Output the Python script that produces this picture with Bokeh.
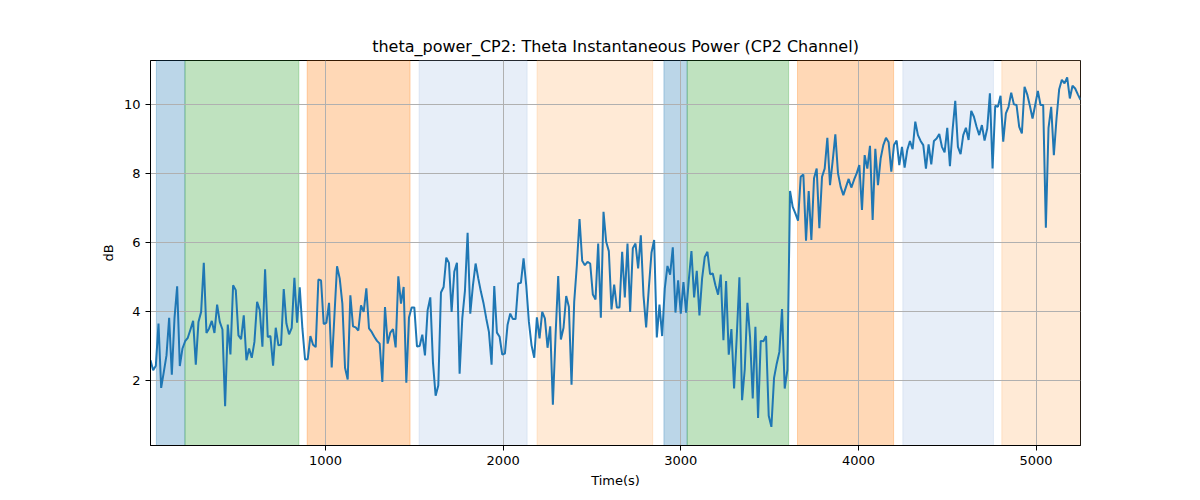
import numpy as np
from bokeh.plotting import figure
from bokeh.models import BoxAnnotation, FixedTicker, ColumnDataSource
from bokeh.embed import file_html
from bokeh.resources import INLINE

FONT = "DejaVu Sans"

# sampled theta power (dB), one value every 15 s
time_start = 15
time_step = 15
power_db = [
    2.59, 2.30, 2.43, 3.65, 1.79, 2.25, 2.73, 3.82, 2.17, 3.80,
    4.73, 2.42, 2.93, 3.14, 3.24, 3.48, 3.73, 2.46, 3.70, 3.99,
    5.41, 3.38, 3.51, 3.73, 3.38, 4.20, 3.70, 3.48, 1.26, 3.62,
    2.76, 4.76, 4.62, 3.31, 3.20, 3.89, 2.59, 2.93, 2.66, 3.12,
    4.28, 4.04, 2.98, 5.22, 3.26, 3.29, 2.43, 3.53, 3.02, 3.04,
    4.65, 3.65, 3.34, 3.53, 4.98, 3.68, 4.70, 3.51, 2.61, 2.62,
    3.29,
    3.04, 2.97, 4.93, 4.90, 3.64, 3.67, 4.25, 2.38, 3.85, 5.31,
    4.96, 4.23, 2.37, 2.03, 4.47, 3.57, 3.54, 3.45, 4.18, 3.99,
    4.67, 3.51, 3.41, 3.27, 3.15, 3.07, 1.96, 4.13, 3.07, 3.39,
    3.49, 2.96, 5.02, 4.23, 4.71, 1.94, 3.83, 4.12, 4.12, 2.99,
    3.00, 3.33, 2.73, 4.04, 4.41, 2.52, 1.56, 1.86, 4.55, 4.71,
    5.56, 5.41, 3.99, 5.15, 5.41, 2.20, 3.80,
    4.60, 6.28, 3.94, 4.76, 5.39, 4.96, 4.57, 4.23, 3.80, 3.41,
    2.46, 4.74, 3.39, 3.27, 2.75, 2.78, 3.62, 3.94, 3.78, 3.78,
    4.81, 4.83, 5.54, 4.76, 3.70, 3.02, 2.66, 3.83, 3.22, 3.99,
    3.80, 2.95, 3.57, 1.30, 3.30, 5.03, 3.19, 3.53, 4.45, 4.14,
    1.88, 4.28, 5.34, 6.68, 5.47, 5.34, 5.44, 5.39, 4.49, 4.35,
    5.97, 3.82, 6.89, 6.02, 5.75, 4.06, 4.78, 4.12, 4.12,
    5.73, 4.41, 5.97, 3.99, 5.83, 5.97, 5.25, 6.21, 4.47, 3.54,
    4.67, 5.70, 6.07, 3.25, 4.20, 3.29, 4.67, 5.32, 5.07, 5.86,
    3.97, 4.90, 3.94, 4.85, 3.97, 4.90, 5.75, 4.41, 5.18, 3.89,
    4.96, 5.58, 5.73, 5.08, 5.10, 4.76, 4.49, 5.07, 3.17, 4.88,
    2.75, 3.49, 1.77, 3.27, 4.99, 1.43, 2.32, 4.25, 3.25, 1.48,
    3.56, 0.92, 3.15, 3.14, 3.29, 0.98, 0.66, 2.08,
    2.49, 2.83, 4.07, 1.77, 2.30, 7.49, 7.03, 6.84, 6.63, 7.90,
    7.97, 6.05, 7.49, 6.07, 7.86, 8.14, 6.41, 7.90, 8.14, 9.03,
    7.66, 8.36, 9.13, 8.00, 7.61, 7.37, 7.61, 7.84, 7.59, 7.81,
    8.00, 8.24, 6.94, 8.53, 8.14, 8.80, 6.65, 8.71, 7.66, 8.43,
    8.82, 9.03, 8.90, 8.05, 8.82, 8.95, 8.24, 8.77, 8.17, 8.68,
    8.94, 8.70, 9.50, 9.11, 8.94, 8.82, 8.14, 8.84,
    8.26, 8.94, 9.01, 9.14, 8.77, 8.61, 9.32, 8.21, 9.26, 10.10,
    8.77, 8.56, 9.11, 9.32, 8.97, 9.81, 9.64, 9.35, 9.11, 9.40,
    8.95, 9.30, 10.32, 8.14, 9.96, 9.93, 10.25, 8.92, 9.74, 9.93,
    10.34, 10.00, 9.98, 9.35, 9.16, 10.51, 10.29, 9.96, 9.59, 9.98,
    10.39, 9.98, 9.98, 6.43, 9.32, 9.93, 8.53, 9.59, 10.44, 10.71,
    10.61, 10.78, 10.17, 10.54, 10.46, 10.29, 10.13,
]
times = time_start + time_step * np.arange(len(power_db))

# shaded segments (start s, end s, colour)
seg_start = [48, 209, 897, 1527, 2191, 2905, 3036, 3657, 4250, 4807]
seg_end = [209, 850, 1476, 2135, 2842, 3036, 3607, 4198, 4760, 5300]
seg_color = ["#1f77b4", "#2ca02c", "#ff7f0e", "#aec7e8", "#ffbb78",
             "#1f77b4", "#2ca02c", "#ff7f0e", "#aec7e8", "#ffbb78"]

x_ticks = [1000, 2000, 3000, 4000, 5000]
y_ticks = [2, 4, 6, 8, 10]

p = figure(
    width=1184, height=492,
    title="theta_power_CP2: Theta Instantaneous Power (CP2 Channel)",
    x_axis_label="Time(s)", y_axis_label="dB",
    x_range=(times[0], times[-1]), y_range=(0.12, 11.27),
    toolbar_location=None, output_backend="svg",
    min_border_left=150, min_border_right=104,
    min_border_top=60, min_border_bottom=47,
)
p.background_fill_color = "white"
p.border_fill_color = "white"
p.outline_line_color = "black"
p.outline_line_width = 1

for s, e, c in zip(seg_start, seg_end, seg_color):
    p.add_layout(BoxAnnotation(left=s, right=e, fill_color=c, fill_alpha=0.3,
                               line_color=c, line_alpha=0.3, line_width=1,
                               level="image"))

src = ColumnDataSource(data=dict(time=times, power=power_db))
p.line("time", "power", source=src, line_color="#1f77b4", line_width=2)

p.title.align = "center"
p.title.text_font = FONT
p.title.text_font_size = "16px"
p.title.text_font_style = "normal"
p.title.text_color = "black"

p.xaxis.ticker = FixedTicker(ticks=x_ticks)
p.yaxis.ticker = FixedTicker(ticks=y_ticks)
for ax in (p.xaxis, p.yaxis):
    ax.major_label_text_font = FONT
    ax.major_label_text_font_size = "13px"
    ax.major_label_text_color = "black"
    ax.axis_label_text_font = FONT
    ax.axis_label_text_font_size = "13px"
    ax.axis_label_text_font_style = "normal"
    ax.axis_label_text_color = "black"
    ax.major_tick_out = 5
    ax.major_tick_in = 0
    ax.minor_tick_line_color = None
    ax.axis_line_color = "black"
    ax.major_tick_line_color = "black"

p.grid.grid_line_color = "#b0b0b0"
p.grid.grid_line_width = 1

open("out.html", "w").write(file_html(p, INLINE))
